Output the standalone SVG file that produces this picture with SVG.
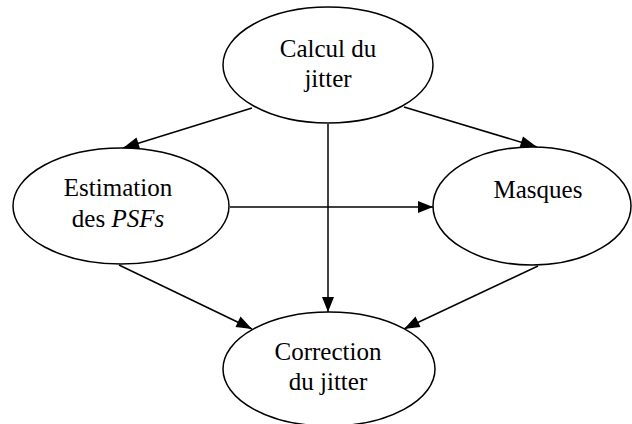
<svg xmlns="http://www.w3.org/2000/svg" width="632" height="424" viewBox="0 0 632 424">
<style>
.n{fill:#fff;stroke:#000;stroke-width:1.5}
.t{font-family:"Liberation Serif",serif;font-size:25px;fill:#000;text-anchor:middle}
.c{stroke:#000;stroke-width:1.5;fill:none;marker-end:url(#ah)}
</style>
<defs>
<marker id="ah" viewBox="0 0 10 8" refX="10" refY="4" markerWidth="10" markerHeight="8" markerUnits="userSpaceOnUse" orient="auto">
<path d="M0,0L10,4L0,8Z" fill="#000"/>
</marker>
</defs>
<rect width="632" height="424" fill="#fff"/>
<g id="connectors">
<line class="c" x1="252" y1="108" x2="123" y2="148" style="marker-end:none"/>
<path d="M123,148 L136.5,137.5 L140,148.5 Z" fill="#000"/>
<line class="c" x1="404" y1="107" x2="537" y2="147" style="marker-end:none"/>
<path d="M537,147 L519.5,147.5 L523,136.5 Z" fill="#000"/>
<line x1="328" y1="124" x2="328" y2="312" stroke="#000" stroke-width="1.5"/>
<path d="M328,312 L322,297 L334,297 Z" fill="#000"/>
<line x1="230" y1="207" x2="433" y2="207" stroke="#000" stroke-width="1.5"/>
<path d="M433,207 L418,201 L418,213 Z" fill="#000"/>
<line x1="119" y1="265" x2="252" y2="329" stroke="#000" stroke-width="1.5"/>
<path d="M252,329 L235.5,327 L240.5,316.5 Z" fill="#000"/>
<line x1="538" y1="266" x2="404" y2="329" stroke="#000" stroke-width="1.5"/>
<path d="M404,329 L415.5,316.5 L420.5,327 Z" fill="#000"/>
</g>
<g id="calcul">
<ellipse class="n" cx="328" cy="65" rx="105" ry="58"/>
<text class="t" x="328" y="57">Calcul du</text>
<text class="t" x="328" y="87">jitter</text>
</g>
<g id="estimation">
<ellipse class="n" cx="121" cy="206" rx="108" ry="58"/>
<text class="t" x="118" y="196">Estimation</text>
<text class="t" x="118" y="227">des <tspan font-style="italic">PSFs</tspan></text>
</g>
<g id="masques">
<ellipse class="n" cx="532" cy="206" rx="99" ry="59"/>
<text class="t" x="538" y="198">Masques</text>
</g>
<g id="correction">
<ellipse class="n" cx="329" cy="369" rx="106" ry="57"/>
<text class="t" x="328" y="360">Correction</text>
<text class="t" x="328" y="390">du jitter</text>
</g>
</svg>
